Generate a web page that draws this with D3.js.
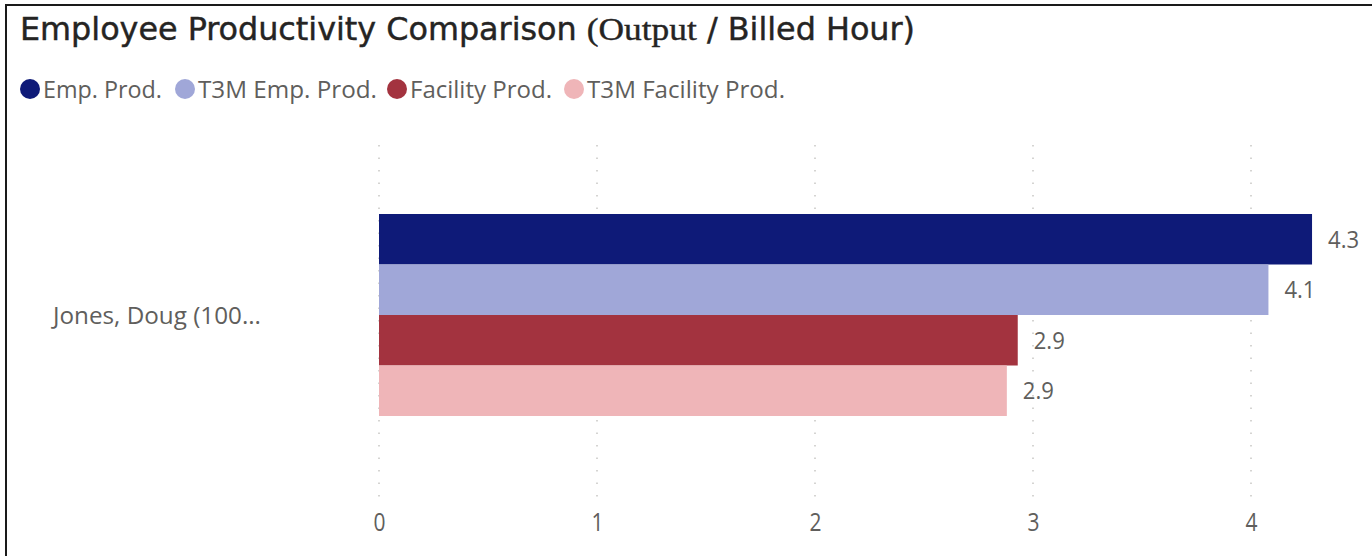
<!DOCTYPE html>
<html>
<head>
<meta charset="utf-8">
<script src="https://cdn.jsdelivr.net/npm/d3@7"></script>
<style>
	html, body { margin: 0; padding: 0; background: #fff; }
	svg { display: block; }
</style>
</head>
<body>
<svg id="chart" width="1372" height="556"></svg>
<script>
(function(d3) {
	'use strict';

	var categories = ['Jones, Doug (100...'];
	var seriesNames = ['Emp. Prod.', 'T3M Emp. Prod.', 'Facility Prod.', 'T3M Facility Prod.'];
	var seriesColors = ['#0E1A78', '#A0A7D8', '#A3333F', '#EFB5B8'];
	var seriesValues = [4.28, 4.08, 2.93, 2.88];
	var valueLabels = ['4.3', '4.1', '2.9', '2.9'];
	var xTicks = [0, 1, 2, 3, 4];

	var width = 1372, height = 556;
	var svg = d3.select('#chart');
	var textColor = '#605E5C';
	var sans = '"Open Sans", "Noto Sans", sans-serif';

	/** frame */
	svg.append('path')
		.attr('d', 'M6,' + height + 'V5H' + width)
		.attr('fill', 'none').attr('stroke', '#1a1a1a').attr('stroke-width', 2);

	/** title */
	var title = svg.append('text')
		.attr('x', 20).attr('y', 40)
		.attr('font-size', 32).attr('fill', '#252423')
		.attr('stroke', '#252423').attr('stroke-width', 0.4)
		.attr('textLength', 895).attr('lengthAdjust', 'spacingAndGlyphs');
	title.append('tspan').attr('font-family', '"DejaVu Sans Condensed", sans-serif').text('Employee Productivity Comparison ');
	title.append('tspan').attr('font-family', '"Liberation Serif", serif').text('(Output');
	title.append('tspan').attr('font-family', '"DejaVu Sans Condensed", sans-serif').text(' / Billed Hour)');

	/** legend */
	var legendX = [30, 185, 397, 574];
	var legendW = [119, 179, 142, 198];
	var legend = svg.append('g').selectAll('g').data(seriesNames).enter().append('g')
		.attr('transform', function(d, i) { return 'translate(' + legendX[i] + ',89)'; });
	legend.append('circle').attr('r', 10).attr('fill', function(d, i) { return seriesColors[i]; });
	legend.append('text')
		.attr('x', 13).attr('dy', '0.36em')
		.attr('font-family', sans).attr('font-size', 24).attr('fill', textColor)
		.attr('textLength', function(d, i) { return legendW[i]; }).attr('lengthAdjust', 'spacingAndGlyphs')
		.text(function(d) { return d; });

	/** scales */
	var x = d3.scaleLinear().domain([0, 4]).range([379, 1251]);
	var y = d3.scaleBand().domain(categories).range([214, 416]);
	var ySub = d3.scaleBand().domain(seriesNames).range([0, y.bandwidth()]);

	/** grid */
	var grid = svg.append('g').attr('class', 'grid');
	grid.selectAll('line').data(xTicks).enter().append('line')
		.attr('x1', function(d) { return x(d); }).attr('x2', function(d) { return x(d); })
		.attr('y1', 145).attr('y2', 500)
		.attr('stroke', '#C8C6C4').attr('stroke-width', 1.5)
		.attr('stroke-dasharray', '1.5,11');

	/** axis */
	var xAxis = svg.append('g')
		.attr('transform', 'translate(0,531)')
		.call(d3.axisBottom(x).tickValues(xTicks).tickSize(0).tickPadding(0).tickFormat(d3.format('d')));
	xAxis.select('.domain').remove();
	xAxis.selectAll('text')
		.attr('font-family', sans).attr('font-size', 25).attr('fill', textColor)
		.attr('dy', 0).attr('y', 0)
		.attr('textLength', 12).attr('lengthAdjust', 'spacingAndGlyphs');

	/** category labels */
	svg.append('g').selectAll('text').data(categories).enter().append('text')
		.attr('x', 53).attr('y', function(d) { return y(d) + y.bandwidth() / 2; })
		.attr('dy', '0.36em')
		.attr('font-family', sans).attr('font-size', 24).attr('fill', textColor)
		.attr('textLength', 208).attr('lengthAdjust', 'spacingAndGlyphs')
		.text(function(d) { return d; });

	/** bars */
	var bars = svg.append('g').attr('class', 'bars');
	bars.selectAll('rect').data(seriesValues).enter().append('rect')
		.attr('x', x(0))
		.attr('y', function(d, i) { return y(categories[0]) + ySub(seriesNames[i]); })
		.attr('width', function(d) { return x(d) - x(0); })
		.attr('height', ySub.bandwidth())
		.attr('fill', function(d, i) { return seriesColors[i]; });

	bars.selectAll('text').data(seriesValues).enter().append('text')
		.attr('x', function(d) { return x(d) + 16; })
		.attr('y', function(d, i) { return y(categories[0]) + ySub(seriesNames[i]) + ySub.bandwidth() / 2; })
		.attr('dy', '0.36em')
		.attr('font-family', sans).attr('font-size', 24).attr('fill', textColor)
		.attr('textLength', 31).attr('lengthAdjust', 'spacingAndGlyphs')
		.text(function(d, i) { return valueLabels[i]; });
})(d3);
</script>
</body>
</html>
